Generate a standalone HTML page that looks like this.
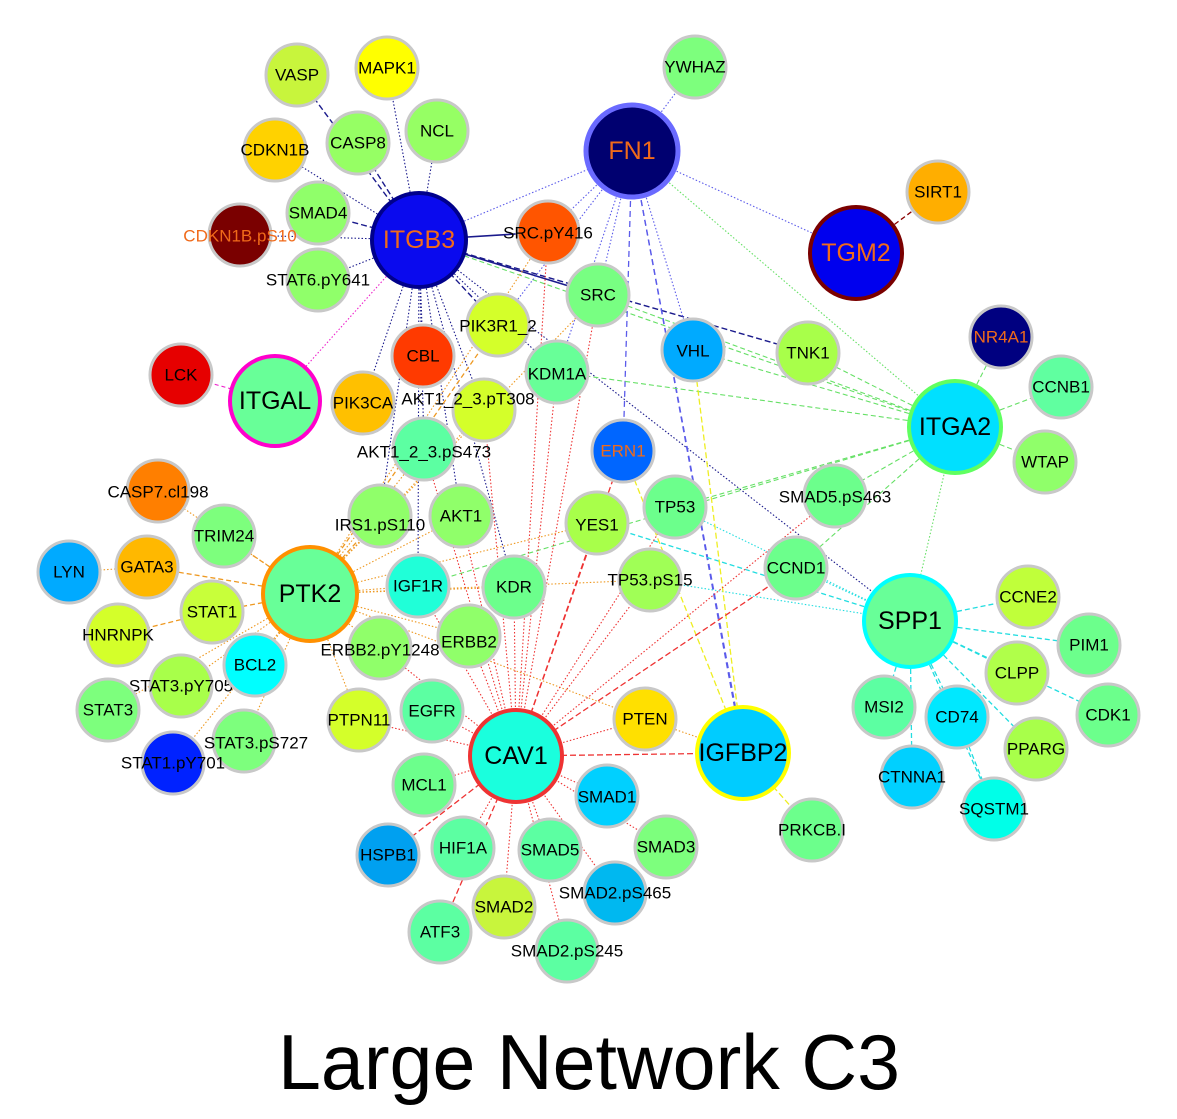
<!DOCTYPE html>
<html><head><meta charset="utf-8"><style>
html,body{margin:0;padding:0;background:#fff;}
svg{display:block;}
text{font-family:"Liberation Sans",Arial,sans-serif;text-anchor:middle;dominant-baseline:central;}
.l{font-size:17px;fill:#000;}
.lo{font-size:17px;fill:#f06a1a;}
.L{font-size:25px;fill:#000;}
.LO{font-size:25px;fill:#f06a1a;}
.s{stroke:#c8c8c8;stroke-width:3;}
line{stroke-width:1.1;fill:none;}
.n{stroke:#1a1a8c;stroke-dasharray:1.5 2;}
.nd{stroke:#1a1a8c;stroke-dasharray:6 3;stroke-width:1.4;}
.ns{stroke:#1a1a8c;stroke-width:1.6;}
.b{stroke:#5b5bea;stroke-dasharray:1.5 2;}
.bd{stroke:#5b5bea;stroke-dasharray:6 4;stroke-width:1.3;}
.g{stroke:#66e066;stroke-dasharray:5 3;}
.gd{stroke:#66e066;stroke-dasharray:1.5 2;}
.c{stroke:#22dde0;stroke-dasharray:5 3;stroke-width:1.3;}
.cd{stroke:#22dde0;stroke-dasharray:1.5 2;}
.y{stroke:#eeee22;stroke-dasharray:6 3;stroke-width:1.3;}
.o{stroke:#ee9922;stroke-dasharray:1.5 2;}
.od{stroke:#ee9922;stroke-dasharray:5 3;stroke-width:1.3;}
.r{stroke:#ee3333;stroke-dasharray:1.5 2;}
.rd{stroke:#ee3333;stroke-dasharray:6 3;stroke-width:1.3;}
.m{stroke:#ee22cc;stroke-dasharray:1.5 2;}
.md{stroke:#ee22cc;stroke-dasharray:4 3;}
.dr{stroke:#8a0000;stroke-dasharray:5 3;stroke-width:1.3;}
</style></head><body>
<svg width="1177" height="1119" viewBox="0 0 1177 1119" xmlns="http://www.w3.org/2000/svg">
<g>
<line class="nd" x1="419" y1="240" x2="297" y2="75"/>
<line class="n" x1="419" y1="240" x2="387" y2="68"/>
<line class="nd" x1="419" y1="240" x2="358" y2="143"/>
<line class="n" x1="419" y1="240" x2="437" y2="131"/>
<line class="n" x1="419" y1="240" x2="275" y2="150"/>
<line class="nd" x1="419" y1="240" x2="318" y2="213"/>
<line class="n" x1="419" y1="240" x2="240" y2="235"/>
<line class="n" x1="419" y1="240" x2="318" y2="280"/>
<line class="ns" x1="419" y1="240" x2="548" y2="232"/>
<line class="ns" x1="419" y1="240" x2="598" y2="295"/>
<line class="nd" x1="419" y1="240" x2="808" y2="353"/>
<line class="nd" x1="419" y1="240" x2="498" y2="325"/>
<line class="n" x1="419" y1="240" x2="423" y2="356"/>
<line class="n" x1="419" y1="240" x2="557" y2="372"/>
<line class="n" x1="419" y1="240" x2="484" y2="410"/>
<line class="n" x1="419" y1="240" x2="424" y2="449"/>
<line class="n" x1="419" y1="240" x2="380" y2="516"/>
<line class="n" x1="419" y1="240" x2="461" y2="516"/>
<line class="n" x1="419" y1="240" x2="418" y2="586"/>
<line class="n" x1="419" y1="240" x2="514" y2="587"/>
<line class="n" x1="419" y1="240" x2="363" y2="403"/>
<line class="n" x1="419" y1="240" x2="910" y2="621"/>
<line class="b" x1="419" y1="240" x2="632" y2="151"/>
<line class="m" x1="419" y1="240" x2="275" y2="401"/>
<line class="md" x1="181" y1="375" x2="275" y2="401"/>
<line class="g" x1="419" y1="240" x2="955" y2="427"/>
</g>
<g>
<line class="b" x1="632" y1="151" x2="695" y2="67"/>
<line class="b" x1="632" y1="151" x2="856" y2="253"/>
<line class="b" x1="632" y1="151" x2="598" y2="295"/>
<line class="b" x1="632" y1="151" x2="557" y2="372"/>
<line class="bd" x1="632" y1="151" x2="623" y2="451"/>
<line class="b" x1="632" y1="151" x2="693" y2="350"/>
<line class="bd" x1="632" y1="151" x2="743" y2="753"/>
<line class="bd" x1="632" y1="151" x2="736" y2="710"/>
<line class="gd" x1="632" y1="151" x2="955" y2="427"/>
<line class="b" x1="632" y1="151" x2="548" y2="232"/>
<line class="b" x1="632" y1="151" x2="498" y2="325"/>
<line class="dr" x1="856" y1="253" x2="938" y2="192"/>
</g>
<g>
<line class="g" x1="955" y1="427" x2="598" y2="295"/>
<line class="g" x1="955" y1="427" x2="808" y2="353"/>
<line class="g" x1="955" y1="427" x2="693" y2="350"/>
<line class="g" x1="955" y1="427" x2="557" y2="372"/>
<line class="g" x1="955" y1="427" x2="1001" y2="337"/>
<line class="g" x1="955" y1="427" x2="1061" y2="387"/>
<line class="g" x1="955" y1="427" x2="1045" y2="462"/>
<line class="g" x1="955" y1="427" x2="835" y2="496"/>
<line class="g" x1="955" y1="427" x2="675" y2="507"/>
<line class="g" x1="955" y1="427" x2="796" y2="568"/>
<line class="g" x1="955" y1="427" x2="418" y2="586"/>
<line class="gd" x1="955" y1="427" x2="910" y2="621"/>
</g>
<g>
<line class="c" x1="910" y1="621" x2="1028" y2="597"/>
<line class="c" x1="910" y1="621" x2="1089" y2="645"/>
<line class="c" x1="910" y1="621" x2="1017" y2="673"/>
<line class="c" x1="910" y1="621" x2="1108" y2="715"/>
<line class="c" x1="910" y1="621" x2="1036" y2="749"/>
<line class="c" x1="910" y1="621" x2="957" y2="717"/>
<line class="c" x1="910" y1="621" x2="884" y2="707"/>
<line class="c" x1="910" y1="621" x2="912" y2="777"/>
<line class="c" x1="957" y1="717" x2="994" y2="809"/>
<line class="c" x1="910" y1="621" x2="994" y2="809"/>
<line class="cd" x1="910" y1="621" x2="675" y2="507"/>
<line class="c" x1="910" y1="621" x2="597" y2="523"/>
<line class="cd" x1="910" y1="621" x2="650" y2="580"/>
<line class="cd" x1="910" y1="621" x2="796" y2="568"/>
</g>
<g>
<line class="y" x1="743" y1="753" x2="812" y2="830"/>
<line class="y" x1="743" y1="753" x2="693" y2="350"/>
<line class="y" x1="743" y1="753" x2="623" y2="451"/>
<line class="o" x1="743" y1="753" x2="645" y2="719"/>
<line class="rd" x1="516" y1="756" x2="743" y2="753"/>
</g>
<g>
<line class="o" x1="310" y1="594" x2="158" y2="491"/>
<line class="od" x1="310" y1="594" x2="224" y2="536"/>
<line class="od" x1="310" y1="594" x2="147" y2="567"/>
<line class="o" x1="147" y1="567" x2="69" y2="572"/>
<line class="od" x1="310" y1="594" x2="212" y2="612"/>
<line class="od" x1="212" y1="612" x2="118" y2="635"/>
<line class="o" x1="310" y1="594" x2="255" y2="665"/>
<line class="o" x1="310" y1="594" x2="181" y2="686"/>
<line class="o" x1="310" y1="594" x2="244" y2="741"/>
<line class="o" x1="310" y1="594" x2="173" y2="763"/>
<line class="o" x1="310" y1="594" x2="108" y2="710"/>
<line class="od" x1="310" y1="594" x2="380" y2="516"/>
<line class="o" x1="310" y1="594" x2="418" y2="586"/>
<line class="o" x1="310" y1="594" x2="514" y2="587"/>
<line class="o" x1="310" y1="594" x2="597" y2="523"/>
<line class="o" x1="310" y1="594" x2="469" y2="636"/>
<line class="o" x1="310" y1="594" x2="380" y2="648"/>
<line class="o" x1="310" y1="594" x2="359" y2="720"/>
<line class="o" x1="310" y1="594" x2="645" y2="719"/>
<line class="o" x1="310" y1="594" x2="424" y2="449"/>
<line class="o" x1="310" y1="594" x2="484" y2="410"/>
<line class="od" x1="310" y1="594" x2="498" y2="325"/>
<line class="o" x1="310" y1="594" x2="548" y2="232"/>
<line class="o" x1="310" y1="594" x2="598" y2="295"/>
<line class="o" x1="310" y1="594" x2="650" y2="580"/>
<line class="o" x1="310" y1="594" x2="461" y2="516"/>
</g>
<g>
<line class="r" x1="516" y1="756" x2="598" y2="295"/>
<line class="r" x1="516" y1="756" x2="557" y2="372"/>
<line class="r" x1="516" y1="756" x2="548" y2="232"/>
<line class="rd" x1="516" y1="756" x2="623" y2="451"/>
<line class="rd" x1="516" y1="756" x2="597" y2="523"/>
<line class="r" x1="516" y1="756" x2="675" y2="507"/>
<line class="rd" x1="516" y1="756" x2="796" y2="568"/>
<line class="r" x1="516" y1="756" x2="835" y2="496"/>
<line class="r" x1="516" y1="756" x2="650" y2="580"/>
<line class="r" x1="516" y1="756" x2="514" y2="587"/>
<line class="r" x1="516" y1="756" x2="461" y2="516"/>
<line class="r" x1="516" y1="756" x2="418" y2="586"/>
<line class="r" x1="516" y1="756" x2="469" y2="636"/>
<line class="r" x1="516" y1="756" x2="380" y2="648"/>
<line class="r" x1="516" y1="756" x2="432" y2="711"/>
<line class="r" x1="516" y1="756" x2="359" y2="720"/>
<line class="r" x1="516" y1="756" x2="424" y2="785"/>
<line class="rd" x1="516" y1="756" x2="388" y2="855"/>
<line class="r" x1="516" y1="756" x2="463" y2="848"/>
<line class="rd" x1="516" y1="756" x2="440" y2="932"/>
<line class="r" x1="516" y1="756" x2="504" y2="907"/>
<line class="r" x1="516" y1="756" x2="550" y2="850"/>
<line class="r" x1="516" y1="756" x2="567" y2="951"/>
<line class="r" x1="516" y1="756" x2="615" y2="893"/>
<line class="r" x1="516" y1="756" x2="666" y2="847"/>
<line class="r" x1="516" y1="756" x2="607" y2="796"/>
<line class="r" x1="516" y1="756" x2="645" y2="719"/>
<line class="r" x1="516" y1="756" x2="484" y2="410"/>
<line class="r" x1="516" y1="756" x2="424" y2="449"/>
</g>
<g>
<circle cx="297" cy="75" r="31" fill="#c8f53c" class="s"/><text x="297" y="75" class="l">VASP</text>
<circle cx="387" cy="68" r="31" fill="#ffff00" class="s"/><text x="387" y="68" class="l">MAPK1</text>
<circle cx="695" cy="67" r="31" fill="#7dff7d" class="s"/><text x="695" y="67" class="l">YWHAZ</text>
<circle cx="437" cy="131" r="31" fill="#96ff64" class="s"/><text x="437" y="131" class="l">NCL</text>
<circle cx="358" cy="143" r="31" fill="#96ff64" class="s"/><text x="358" y="143" class="l">CASP8</text>
<circle cx="275" cy="150" r="31" fill="#ffd200" class="s"/><text x="275" y="150" class="l">CDKN1B</text>
<circle cx="318" cy="213" r="31" fill="#90ff6a" class="s"/><text x="318" y="213" class="l">SMAD4</text>
<circle cx="240" cy="235" r="31" fill="#7a0000" class="s"/><text x="240" y="236" class="lo">CDKN1B.pS10</text>
<circle cx="318" cy="280" r="31" fill="#90ff6a" class="s"/><text x="318" y="280" class="l">STAT6.pY641</text>
<circle cx="548" cy="232" r="31" fill="#ff5500" class="s"/><text x="548" y="233" class="l">SRC.pY416</text>
<circle cx="938" cy="192" r="31" fill="#ffae00" class="s"/><text x="938" y="192" class="l">SIRT1</text>
<circle cx="598" cy="295" r="31" fill="#78ff82" class="s"/><text x="598" y="295" class="l">SRC</text>
<circle cx="498" cy="325" r="31" fill="#d4ff2a" class="s"/><text x="498" y="326" class="l">PIK3R1_2</text>
<circle cx="423" cy="356" r="31" fill="#ff3a00" class="s"/><text x="423" y="356" class="l">CBL</text>
<circle cx="484" cy="410" r="31" fill="#d4ff2a" class="s"/><text x="468" y="399" class="l">AKT1_2_3.pT308</text>
<circle cx="557" cy="372" r="31" fill="#68ff98" class="s"/><text x="557" y="374" class="l">KDM1A</text>
<circle cx="693" cy="350" r="31" fill="#00aaff" class="s"/><text x="693" y="351" class="l">VHL</text>
<circle cx="808" cy="353" r="31" fill="#a8ff4a" class="s"/><text x="808" y="353" class="l">TNK1</text>
<circle cx="1001" cy="337" r="31" fill="#000080" class="s"/><text x="1001" y="337" class="lo">NR4A1</text>
<circle cx="1061" cy="387" r="31" fill="#60ffa0" class="s"/><text x="1061" y="387" class="l">CCNB1</text>
<circle cx="181" cy="375" r="31" fill="#e60000" class="s"/><text x="181" y="375" class="l">LCK</text>
<circle cx="363" cy="403" r="31" fill="#ffc000" class="s"/><text x="363" y="403" class="l">PIK3CA</text>
<circle cx="424" cy="449" r="31" fill="#5cffa2" class="s"/><text x="424" y="452" class="l">AKT1_2_3.pS473</text>
<circle cx="623" cy="451" r="31" fill="#0066ff" class="s"/><text x="623" y="451" class="lo">ERN1</text>
<circle cx="1045" cy="462" r="31" fill="#90ff6a" class="s"/><text x="1045" y="462" class="l">WTAP</text>
<circle cx="835" cy="496" r="31" fill="#6cff8c" class="s"/><text x="835" y="497" class="l">SMAD5.pS463</text>
<circle cx="158" cy="491" r="31" fill="#ff7f00" class="s"/><text x="158" y="492" class="l">CASP7.cl198</text>
<circle cx="224" cy="536" r="31" fill="#7dff7d" class="s"/><text x="224" y="536" class="l">TRIM24</text>
<circle cx="380" cy="516" r="31" fill="#90ff6a" class="s"/><text x="380" y="525" class="l">IRS1.pS110</text>
<circle cx="461" cy="516" r="31" fill="#90ff6a" class="s"/><text x="461" y="516" class="l">AKT1</text>
<circle cx="675" cy="507" r="31" fill="#6cff8c" class="s"/><text x="675" y="507" class="l">TP53</text>
<circle cx="597" cy="523" r="31" fill="#a8ff4a" class="s"/><text x="597" y="525" class="l">YES1</text>
<circle cx="69" cy="572" r="31" fill="#00aaff" class="s"/><text x="69" y="572" class="l">LYN</text>
<circle cx="147" cy="567" r="31" fill="#ffb800" class="s"/><text x="147" y="567" class="l">GATA3</text>
<circle cx="418" cy="586" r="31" fill="#20ffd8" class="s"/><text x="418" y="586" class="l">IGF1R</text>
<circle cx="514" cy="587" r="31" fill="#6cff8c" class="s"/><text x="514" y="587" class="l">KDR</text>
<circle cx="650" cy="580" r="31" fill="#a0ff56" class="s"/><text x="650" y="580" class="l">TP53.pS15</text>
<circle cx="796" cy="568" r="31" fill="#6cff8c" class="s"/><text x="796" y="568" class="l">CCND1</text>
<circle cx="1028" cy="597" r="31" fill="#c0ff3a" class="s"/><text x="1028" y="597" class="l">CCNE2</text>
<circle cx="212" cy="612" r="31" fill="#c8ff3a" class="s"/><text x="212" y="612" class="l">STAT1</text>
<circle cx="118" cy="635" r="31" fill="#d4ff2a" class="s"/><text x="118" y="635" class="l">HNRNPK</text>
<circle cx="1089" cy="645" r="31" fill="#6cff8c" class="s"/><text x="1089" y="645" class="l">PIM1</text>
<circle cx="181" cy="686" r="31" fill="#a8ff4a" class="s"/><text x="181" y="686" class="l">STAT3.pY705</text>
<circle cx="255" cy="665" r="31" fill="#00ffff" class="s"/><text x="255" y="665" class="l">BCL2</text>
<circle cx="380" cy="648" r="31" fill="#90ff6a" class="s"/><circle cx="469" cy="636" r="31" fill="#90ff6a" class="s"/>
<text x="380" y="650" class="l">ERBB2.pY1248</text><text x="469" y="642" class="l">ERBB2</text>
<circle cx="1017" cy="673" r="31" fill="#b0ff4a" class="s"/><text x="1017" y="673" class="l">CLPP</text>
<circle cx="884" cy="707" r="31" fill="#5cffa2" class="s"/><text x="884" y="707" class="l">MSI2</text>
<circle cx="1108" cy="715" r="31" fill="#6cff8c" class="s"/><text x="1108" y="715" class="l">CDK1</text>
<circle cx="108" cy="710" r="31" fill="#7dff7d" class="s"/><text x="108" y="710" class="l">STAT3</text>
<circle cx="359" cy="720" r="31" fill="#d4ff2a" class="s"/><text x="359" y="720" class="l">PTPN11</text>
<circle cx="432" cy="711" r="31" fill="#5cffa2" class="s"/><text x="432" y="711" class="l">EGFR</text>
<circle cx="645" cy="719" r="31" fill="#ffe000" class="s"/><text x="645" y="719" class="l">PTEN</text>
<circle cx="957" cy="717" r="31" fill="#00e8ff" class="s"/><text x="957" y="717" class="l">CD74</text>
<circle cx="244" cy="741" r="31" fill="#7dff7d" class="s"/><text x="256" y="743" class="l">STAT3.pS727</text>
<circle cx="173" cy="763" r="31" fill="#0022ff" class="s"/><text x="173" y="763" class="l">STAT1.pY701</text>
<circle cx="1036" cy="749" r="31" fill="#a8ff4a" class="s"/><text x="1036" y="749" class="l">PPARG</text>
<circle cx="912" cy="777" r="31" fill="#00d0ff" class="s"/><text x="912" y="777" class="l">CTNNA1</text>
<circle cx="424" cy="785" r="31" fill="#6cff8c" class="s"/><text x="424" y="785" class="l">MCL1</text>
<circle cx="607" cy="796" r="31" fill="#00d0ff" class="s"/><text x="607" y="797" class="l">SMAD1</text>
<circle cx="994" cy="809" r="31" fill="#00ffe8" class="s"/><text x="994" y="809" class="l">SQSTM1</text>
<circle cx="812" cy="830" r="31" fill="#6cff8c" class="s"/><text x="812" y="830" class="l">PRKCB.I</text>
<circle cx="388" cy="855" r="31" fill="#00a0f0" class="s"/><text x="388" y="855" class="l">HSPB1</text>
<circle cx="463" cy="848" r="31" fill="#5cffa2" class="s"/><text x="463" y="848" class="l">HIF1A</text>
<circle cx="550" cy="850" r="31" fill="#5cffa2" class="s"/><text x="550" y="850" class="l">SMAD5</text>
<circle cx="666" cy="847" r="31" fill="#7dff7d" class="s"/><text x="666" y="847" class="l">SMAD3</text>
<circle cx="615" cy="893" r="31" fill="#00b8f0" class="s"/><text x="615" y="893" class="l">SMAD2.pS465</text>
<circle cx="504" cy="907" r="31" fill="#c8f53c" class="s"/><text x="504" y="907" class="l">SMAD2</text>
<circle cx="440" cy="932" r="31" fill="#5cffa2" class="s"/><text x="440" y="932" class="l">ATF3</text>
<circle cx="567" cy="951" r="31" fill="#5cffa2" class="s"/><text x="567" y="951" class="l">SMAD2.pS245</text>
</g>
<g>
<circle cx="632" cy="151" r="46" fill="#000070" stroke="#6a6aff" stroke-width="5"/><text x="632" y="151" class="LO">FN1</text>
<circle cx="419" cy="240" r="47" fill="#0a0aee" stroke="#00008b" stroke-width="4"/><text x="419" y="240" class="LO">ITGB3</text>
<circle cx="856" cy="253" r="46" fill="#0000ee" stroke="#7a0000" stroke-width="4"/><text x="856" y="253" class="LO">TGM2</text>
<circle cx="275" cy="401" r="45" fill="#68ff98" stroke="#ff00cc" stroke-width="4"/><text x="275" y="401" class="L">ITGAL</text>
<circle cx="955" cy="427" r="46" fill="#00e0ff" stroke="#60ff60" stroke-width="4"/><text x="955" y="427" class="L">ITGA2</text>
<circle cx="310" cy="594" r="47" fill="#68ff98" stroke="#ff9000" stroke-width="4"/><text x="310" y="594" class="L">PTK2</text>
<circle cx="910" cy="621" r="46" fill="#68ff98" stroke="#00ffff" stroke-width="4"/><text x="910" y="621" class="L">SPP1</text>
<circle cx="516" cy="756" r="46" fill="#1affdd" stroke="#ee3333" stroke-width="4"/><text x="516" y="756" class="L">CAV1</text>
<circle cx="743" cy="753" r="46" fill="#00ccff" stroke="#ffff00" stroke-width="4"/><text x="743" y="753" class="L">IGFBP2</text>
</g>
<text x="589" y="1062" style="font-size:78px" textLength="622" lengthAdjust="spacingAndGlyphs">Large Network C3</text>
</svg>
</body></html>
